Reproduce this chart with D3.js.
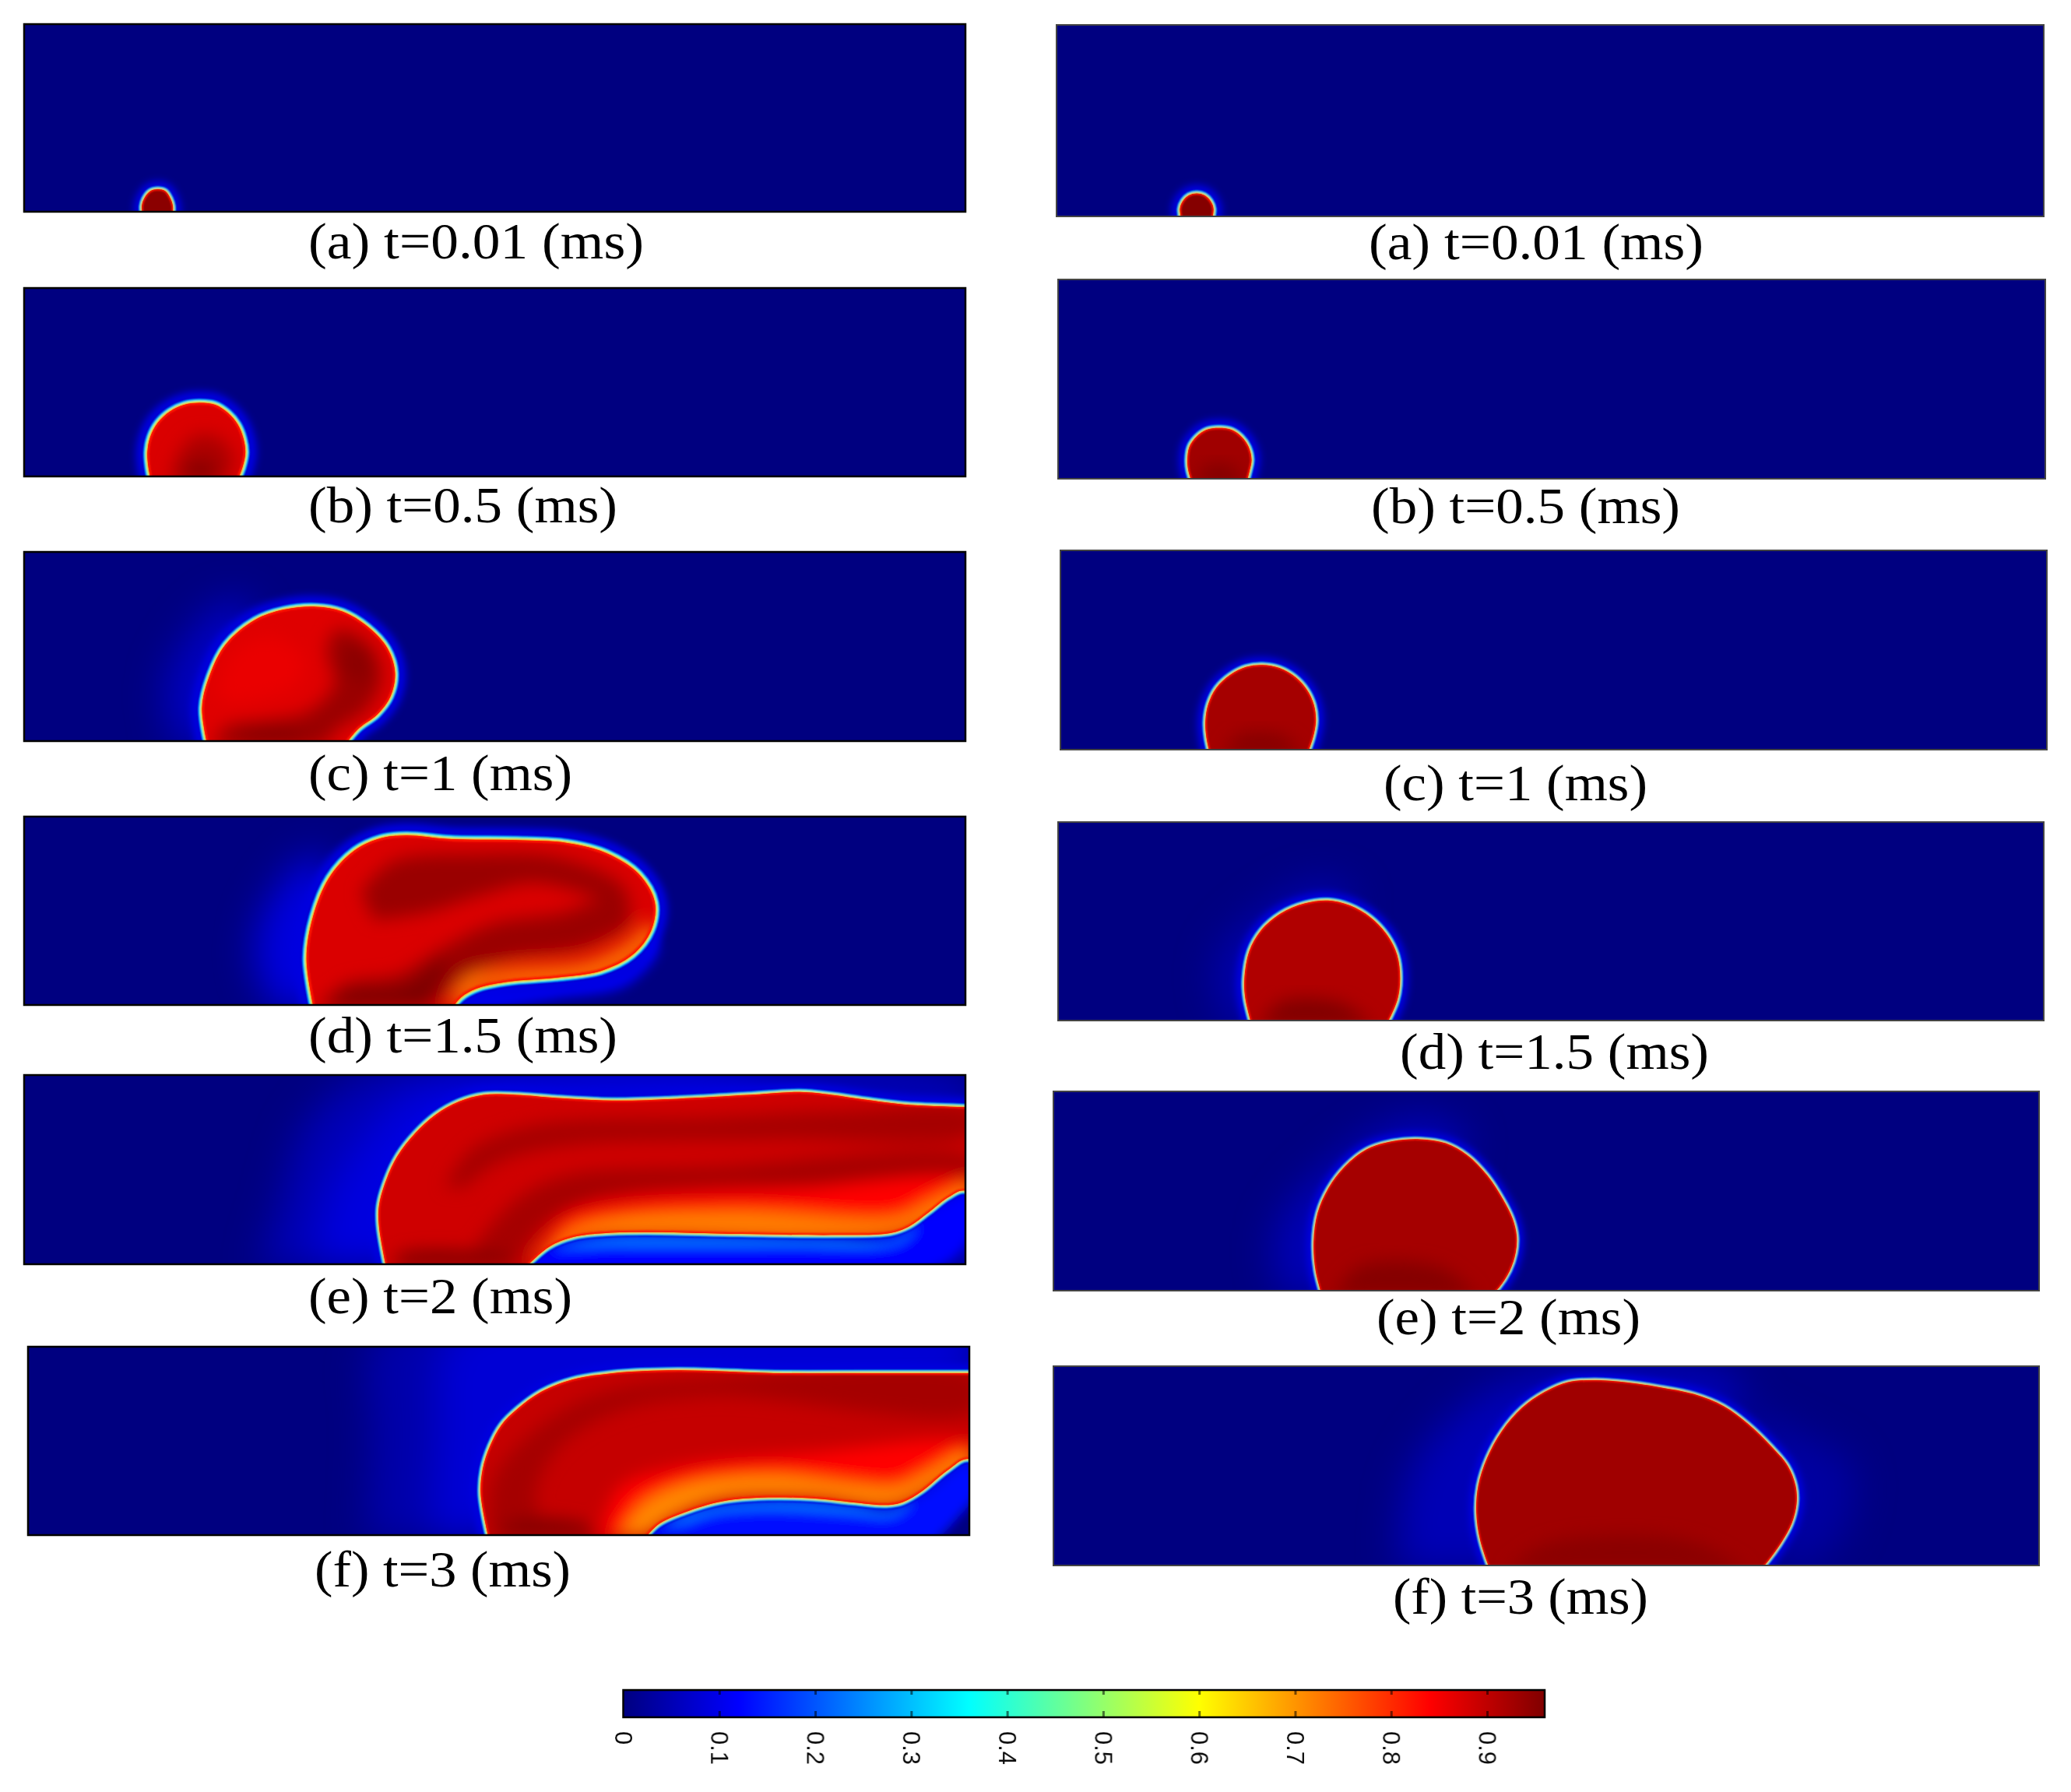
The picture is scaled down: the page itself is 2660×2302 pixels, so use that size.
<!DOCTYPE html>
<html>
<head>
<meta charset="utf-8">
<script src="https://cdn.jsdelivr.net/npm/d3@7/dist/d3.min.js"></script>
<style>
  html, body { margin: 0; padding: 0; background: white; }
  svg { display: block; }
</style>
</head>
<body>
<div id="chart"></div>
<script>
// colour scale
const jetStops = [0, 0.12, 0.36, 0.6, 0.84, 0.96];
const jetColors = ['#000080', '#0000ff', '#00ffff', '#ffff00', '#ff0000', '#800000'];
const barTicks = [0, 0.1, 0.2, 0.3, 0.4, 0.5, 0.6, 0.7, 0.8, 0.9];

const captions = ['(a) t=0.01 (ms)', '(b) t=0.5 (ms)', '(c) t=1 (ms)', '(d) t=1.5 (ms)', '(e) t=2 (ms)', '(f) t=3 (ms)'];

// interface outlines, x 0-1000 along the channel, y 0-200 above the wall
const outlineLa = [[127,-10],[125,6],[128,15],[134,22],[142,24],[150,22],[155,15],[158,6],[157,-10]];
const outlineLb = [[136,-10],[132,10],[131,26],[134,42],[142,57],[155,69],[170,76],[186,78],[203,76],[217,67],[227,55],[233,40],[235,25],[232,10],[224,-10]];
const outlineLc = [[196,-10],[189,35],[197,69],[214,102],[245,128],[276,139],[310,142],[338,137],[365,121],[386,98],[394,72],[389,47],[375,28],[355,13],[336,-10]];
const outlineLd = [[309,-10],[300,49],[307,94],[324,135],[351,164],[379,177],[406,180],[454,176],[523,175],[577,172],[619,161],[653,139],[670,109],[666,79],[646,53],[612,36],[564,29],[516,25],[482,18],[464,8],[450,-10]];
const outlineLe = [[386,-10],[377,40],[377,62],[385,90],[397,115],[415,138],[437,158],[462,172],[488,179],[523,179],[564,176],[625,173],[694,175],[769,179],[824,182],[858,179],[893,174],[934,169],[999,166],[1040,164],[1040,50],[999,78],[982,71],[961,55],[940,40],[920,33],[865,31],[762,32],[660,34],[618,33],[584,29],[557,18],[526,-10]];
const outlineLf = [[491,-10],[481,43],[483,70],[491,95],[503,117],[520,134],[545,152],[578,165],[621,172],[690,175],[792,172],[900,172],[999,172],[1040,172],[1040,50],[999,81],[977,69],[950,47],[929,35],[912,32],[875,35],[834,39],[786,40],[738,36],[697,24],[669,11],[650,-10]];
const outlineRa = [[128,-10],[125,8],[128,16],[134,22],[142,24],[150,22],[156,16],[159,8],[156,-10]];
const outlineRb = [[138,-10],[132,8],[131,19],[133,32],[140,42],[150,49],[163,51],[176,49],[186,42],[193,32],[196,19],[194,8],[189,-10]];
const outlineRc = [[153,-10],[148,12],[147,29],[150,46],[158,62],[172,75],[188,83],[205,85],[222,82],[238,73],[250,60],[257,45],[259,29],[256,12],[248,-10]];
const outlineRd = [[198,-10],[190,22],[189,42],[194,70],[206,91],[226,108],[250,118],[274,121],[296,116],[317,104],[334,86],[344,66],[347,42],[344,20],[330,-10]];
const outlineRe = [[274,-10],[266,20],[264,49],[268,78],[279,103],[296,125],[318,142],[344,150],[372,152],[398,148],[420,136],[440,116],[456,92],[466,72],[470,55],[469,38],[463,20],[452,3],[438,-10]];
const outlineRf = [[445,-10],[433,25],[429,54],[431,80],[440,108],[455,135],[475,158],[498,174],[522,184],[550,186],[580,184],[615,179],[650,172],[680,160],[705,142],[728,120],[745,100],[753,80],[754,62],[749,42],[738,22],[724,3],[712,-10]];

// base level inside each drop
const insideLevels = [0.95, 0.875, 0.87, 0.875, 0.885, 0.895, 0.955, 0.93, 0.925, 0.915, 0.925, 0.93];

// soft iso-regions inside the drops, as [level, outline]
const shadesLa = [];
const shadesLb = [
  [0.92, [[155,-5],[165,25],[180,42],[205,42],[222,20],[215,-5]]],
  [0.96, [[165,-5],[175,12],[195,15],[210,-5]]]
];
const shadesLc = [
  [0.86, [[205,50],[220,90],[260,110],[295,90],[290,60],[250,45],[220,40]]],
  [0.935, [[200,-5],[215,15],[260,22],[300,30],[330,60],[322,95],[332,118],[365,104],[380,70],[365,35],[330,10],[320,-5]]],
  [0.96, [[220,-5],[235,8],[285,10],[310,-5]]],
  [0.95, [[336,75],[346,104],[370,88],[364,58]]]
];
const shadesLd = [
  [0.935, [[358,120],[392,152],[483,160],[569,156],[636,126],[642,100],[597,118],[540,130],[483,116],[426,98],[372,90]]],
  [0.935, [[312,-3],[341,22],[398,32],[441,58],[498,86],[569,97],[626,112],[644,90],[597,62],[512,48],[469,30],[432,-3]]],
  [0.965, [[321,-3],[341,14],[392,17],[415,25],[432,42],[449,48],[438,20],[427,-3]]],
  [0.73, [[452,-2],[468,28],[512,38],[597,46],[640,66],[666,88],[671,75],[649,48],[597,25],[526,20],[483,15],[466,-2]]]
];
const shadesLe = [
  [0.925, [[468,0],[495,40],[530,73],[577,94],[728,103],[1009,112],[1009,90],[728,82],[612,70],[550,40],[523,0]]],
  [0.925, [[447,81],[475,121],[543,147],[728,155],[865,162],[1009,162],[1009,138],[797,132],[571,125],[502,107],[468,81]]],
  [0.84, [[543,-3],[575,50],[643,66],[794,77],[1010,88],[1010,70],[950,40],[700,36],[600,25]]],
  [0.72, [[543,3],[577,36],[625,50],[762,56],[927,50],[961,66],[1009,86],[1009,77],[968,47],[920,29],[660,29],[584,25],[550,0]]],
  [0.96, [[392,-2],[399,10],[468,14],[516,7],[523,-2]]]
];
const shadesLf = [
  [0.925, [[491,-2],[495,61],[546,117],[608,150],[724,167],[1005,169],[1005,132],[724,148],[628,132],[566,95],[539,43],[553,-2]]],
  [0.96, [[498,-2],[512,13],[587,13],[608,-2]]],
  [0.84, [[608,-2],[628,50],[690,72],[827,87],[1005,98],[1005,84],[932,47],[795,54],[700,36],[650,-2]]],
  [0.71, [[628,-2],[652,32],[697,54],[786,64],[882,54],[923,52],[957,68],[999,90],[1005,81],[957,47],[916,30],[834,39],[738,37],[683,17],[656,-2]]]
];
const shadesRa = [];
const shadesRb = [[0.96, [[140,-5],[150,12],[175,12],[190,-5]]]];
const shadesRc = [[0.955, [[165,-5],[180,14],[225,14],[245,-5]]]];
const shadesRd = [[0.96, [[205,-5],[225,18],[285,18],[320,-5]]]];
const shadesRe = [[0.955, [[285,-5],[310,24],[390,24],[430,-5]]]];
const shadesRf = [[0.95, [[460,-5],[500,22],[640,26],[705,-5]]]];

// faint regions in the liquid around the drops, same form
const halosLa = [];
const halosLb = [];
const halosLc = [[0.06, [[160,-5],[150,60],[190,130],[230,150],[250,100],[220,-5]]]];
const halosLd = [[0.09, [[265,-5],[245,50],[260,110],[310,160],[340,100],[340,-5]]]];
const halosLe = [
  [0.05, [[250,-5],[270,60],[300,150],[360,200],[500,215],[900,215],[1010,190],[1010,150],[1040,60],[1040,-5],[950,-5],[800,20],[500,-5]]],
  [0.09, [[310,-5],[325,70],[360,130],[420,185],[600,205],[750,200],[800,180],[500,80],[400,-5]]]
];
const halosLf = [
  [0.04, [[360,-5],[365,100],[375,215],[1010,215],[1010,175],[700,100],[490,-5]]],
  [0.08, [[430,-5],[435,100],[455,215],[1010,215],[1010,175],[700,100],[490,-5]]]
];
const halosRa = [];
const halosRb = [];
const halosRc = [];
const halosRd = [[0.04, [[170,-5],[160,60],[220,120],[275,140],[300,120],[200,-5]]]];
const halosRe = [[0.05, [[230,-5],[225,60],[290,135],[370,175],[420,150],[300,-5]]]];
const halosRf = [
  [0.05, [[350,-5],[360,90],[430,170],[560,205],[700,180],[500,-5]]],
  [0.03, [[760,130],[810,100],[800,30],[745,-5],[700,160]]]
];

// bright water under the tail of the left hand drops
const tailsLd = [[0.1, [[460,-5],[480,15],[520,20],[610,30],[650,48],[665,80],[675,60],[640,20],[560,5],[500,-5]]]];
const tailsLe = [
  [0.12, [[530,-5],[565,22],[620,32],[920,30],[960,55],[1005,75],[1010,40],[985,5],[950,-10]]],
  [0.22, [[560,15],[620,28],[860,27],[925,25],[950,40],[930,22],[800,18],[620,18]]]
];
const tailsLf = [
  [0.13, [[650,-5],[690,22],[740,35],[790,38],[835,37],[875,33],[915,28],[950,44],[1000,78],[1010,50],[985,15],[960,-10]]],
  [0.22, [[675,8],[700,22],[740,32],[790,36],[835,35],[875,31],[915,25],[940,35],[920,20],[870,22],[790,26],[730,22],[700,12]]]
];

const rimLevels = [0.06, 0.12, 0.24, 0.36, 0.5, 0.62, 0.75];

// plot frames and caption boxes in page pixels
const layout = [
  {x0: 31, x1: 1240, y0: 31, y1: 272, capX: 396, capW: 431, capY: 332, rim: 0.7, outline: outlineLa, shades: shadesLa, halos: halosLa},
  {x0: 31, x1: 1240, y0: 370, y1: 612, capX: 396, capW: 397, capY: 671, rim: 1, outline: outlineLb, shades: shadesLb, halos: halosLb},
  {x0: 31, x1: 1240, y0: 709, y1: 952, capX: 396, capW: 339, capY: 1015, rim: 0.95, outline: outlineLc, shades: shadesLc, halos: halosLc},
  {x0: 31, x1: 1240, y0: 1049, y1: 1291, capX: 396, capW: 397, capY: 1352, rim: 1.05, outline: outlineLd, shades: shadesLd, halos: halosLd, tails: tailsLd},
  {x0: 31, x1: 1240, y0: 1381, y1: 1624, capX: 396, capW: 339, capY: 1687, rim: 0.8, outline: outlineLe, shades: shadesLe, halos: halosLe, tails: tailsLe},
  {x0: 36, x1: 1245, y0: 1730, y1: 1972, capX: 404, capW: 329, capY: 2038, rim: 0.8, outline: outlineLf, shades: shadesLf, halos: halosLf, tails: tailsLf},
  {x0: 1357, x1: 2625, y0: 32, y1: 278, capX: 1758, capW: 430, capY: 333, rim: 0.75, outline: outlineRa, shades: shadesRa, halos: halosRa, thin: true},
  {x0: 1359, x1: 2627, y0: 359, y1: 615, capX: 1761, capW: 397, capY: 672, rim: 0.75, outline: outlineRb, shades: shadesRb, halos: halosRb, thin: true},
  {x0: 1362, x1: 2629, y0: 707, y1: 963, capX: 1777, capW: 339, capY: 1028, rim: 0.7, outline: outlineRc, shades: shadesRc, halos: halosRc, thin: true},
  {x0: 1359, x1: 2625, y0: 1056, y1: 1311, capX: 1798, capW: 397, capY: 1373, rim: 0.7, outline: outlineRd, shades: shadesRd, halos: halosRd, thin: true},
  {x0: 1353, x1: 2619, y0: 1402, y1: 1658, capX: 1768, capW: 339, capY: 1714, rim: 0.6, outline: outlineRe, shades: shadesRe, halos: halosRe, thin: true},
  {x0: 1353, x1: 2619, y0: 1755, y1: 2011, capX: 1789, capW: 328, capY: 2073, rim: 0.6, outline: outlineRf, shades: shadesRf, halos: halosRf, thin: true}
];

const jet = d3.scaleLinear().domain(jetStops).range(jetColors);

const svg = d3.select('#chart').append('svg')
  .attr('width', 2660)
  .attr('height', 2302);
const defs = svg.append('defs');

function addBlur(id, amount) {
  defs.append('filter')
    .attr('id', id)
    .attr('x', '-50%').attr('y', '-50%')
    .attr('width', '200%').attr('height', '200%')
    .append('feGaussianBlur')
    .attr('stdDeviation', amount);
}
addBlur('blur-rim', 0.9);
addBlur('blur-glow', 5);
addBlur('blur-tail', 7);
addBlur('blur-soft', 11);
addBlur('blur-halo', 24);
addBlur('blur-text', 0.5);

function renderPanel(panel, i) {
  const {x0, x1, y0, y1, rim, outline, shades, halos, tails = [], thin} = panel;
  const xScale = d3.scaleLinear().domain([0, 1000]).range([x0, x1]);
  const yScale = d3.scaleLinear().domain([0, 200]).range([y1, y0]);
  const curve = d3.curveCatmullRom.alpha(0.5);
  const lineScale = d3.line().x(d => xScale(d[0])).y(d => yScale(d[1])).curve(curve);
  const closedPath = pts => lineScale(pts) + 'Z';
  const drop = closedPath(outline);

  defs.append('clipPath').attr('id', `panel-clip-${i}`)
    .append('rect')
    .attr('x', x0).attr('y', y0)
    .attr('width', x1 - x0).attr('height', y1 - y0);
  defs.append('clipPath').attr('id', `drop-clip-${i}`)
    .append('path').attr('d', drop);

  const g = svg.append('g').attr('class', 'panel');
  g.append('rect')
    .attr('x', x0).attr('y', y0)
    .attr('width', x1 - x0).attr('height', y1 - y0)
    .attr('fill', jet(0));

  const inner = g.append('g').attr('clip-path', `url(#panel-clip-${i})`);

  const haloGroup = inner.append('g').attr('filter', 'url(#blur-halo)');
  halos.forEach(([level, pts]) => {
    haloGroup.append('path').attr('d', closedPath(pts)).attr('fill', jet(level));
  });

  inner.append('path')
    .attr('d', drop)
    .attr('fill', 'none')
    .attr('stroke', jet(0.09))
    .attr('stroke-width', 30 * rim)
    .attr('filter', 'url(#blur-glow)');

  const tailGroup = inner.append('g').attr('filter', 'url(#blur-tail)');
  tails.forEach(([level, pts]) => {
    tailGroup.append('path').attr('d', closedPath(pts)).attr('fill', jet(level));
  });

  const rimGroup = inner.append('g').attr('filter', 'url(#blur-rim)');
  [14, 11, 9, 7.5, 5.5, 3.5, 1.8].forEach((w, k) => {
    rimGroup.append('path')
      .attr('d', drop)
      .attr('fill', 'none')
      .attr('stroke', jet(rimLevels[k]))
      .attr('stroke-width', w * rim);
  });

  const insideGroup = inner.append('g').attr('clip-path', `url(#drop-clip-${i})`);
  insideGroup.append('path').attr('d', drop).attr('fill', jet(insideLevels[i]));

  const shadeGroup = insideGroup.append('g').attr('filter', 'url(#blur-soft)');
  shades.forEach(([level, pts]) => {
    shadeGroup.append('path').attr('d', closedPath(pts)).attr('fill', jet(level));
  });

  insideGroup.append('path')
    .attr('d', drop)
    .attr('fill', 'none')
    .attr('stroke', jet(0.82))
    .attr('stroke-width', 5 * rim)
    .attr('filter', 'url(#blur-rim)');

  g.append('rect')
    .attr('x', x0).attr('y', y0)
    .attr('width', x1 - x0).attr('height', y1 - y0)
    .attr('fill', 'none')
    .attr('stroke', thin ? '#444444' : '#000000')
    .attr('stroke-width', thin ? 2 : 2.5);

  svg.append('text')
    .attr('x', panel.capX)
    .attr('y', panel.capY)
    .attr('font-family', '"Liberation Serif", serif')
    .attr('font-size', 66)
    .attr('fill', '#000000')
    .attr('textLength', panel.capW)
    .attr('lengthAdjust', 'spacingAndGlyphs')
    .attr('filter', 'url(#blur-text)')
    .text(captions[i % 6]);
}

layout.forEach(renderPanel);

function renderColorBar() {
  const barTop = 2171;
  const barBottom = 2206;
  const barScale = d3.scaleLinear().domain([0, 0.96]).range([800.5, 1984]);

  const gradient = defs.append('linearGradient').attr('id', 'jet-bar');
  jetStops.forEach(stop => {
    gradient.append('stop')
      .attr('offset', `${stop / 0.96 * 100}%`)
      .attr('stop-color', jet(stop));
  });

  svg.append('rect')
    .attr('x', barScale(0))
    .attr('y', barTop)
    .attr('width', barScale(0.96) - barScale(0))
    .attr('height', barBottom - barTop)
    .attr('fill', 'url(#jet-bar)')
    .attr('stroke', '#000000')
    .attr('stroke-width', 2.5);

  const topTicks = svg.append('g')
    .attr('transform', `translate(0, ${barTop})`)
    .call(d3.axisTop(barScale).tickValues(barTicks.slice(1)).tickSize(-6));
  topTicks.select('.domain').remove();
  topTicks.selectAll('text').remove();
  topTicks.selectAll('line').attr('stroke', '#000000').attr('stroke-opacity', 0.55).attr('stroke-width', 3);

  const bottomTicks = svg.append('g')
    .attr('transform', `translate(0, ${barBottom})`)
    .call(d3.axisBottom(barScale).tickValues(barTicks).tickSize(-8).tickFormat(d => d));
  bottomTicks.select('.domain').remove();
  bottomTicks.selectAll('line').attr('stroke', '#000000').attr('stroke-opacity', 0.55).attr('stroke-width', 3);
  bottomTicks.selectAll('.tick:first-of-type line').remove();
  bottomTicks.selectAll('text')
    .attr('transform', 'rotate(90)')
    .attr('x', 18)
    .attr('y', 0)
    .attr('dy', '0.35em')
    .attr('text-anchor', 'start')
    .attr('font-family', '"Liberation Sans", sans-serif')
    .attr('font-size', 31)
    .attr('fill', '#111111')
    .attr('filter', 'url(#blur-text)');
}

renderColorBar();
</script>
</body>
</html>
